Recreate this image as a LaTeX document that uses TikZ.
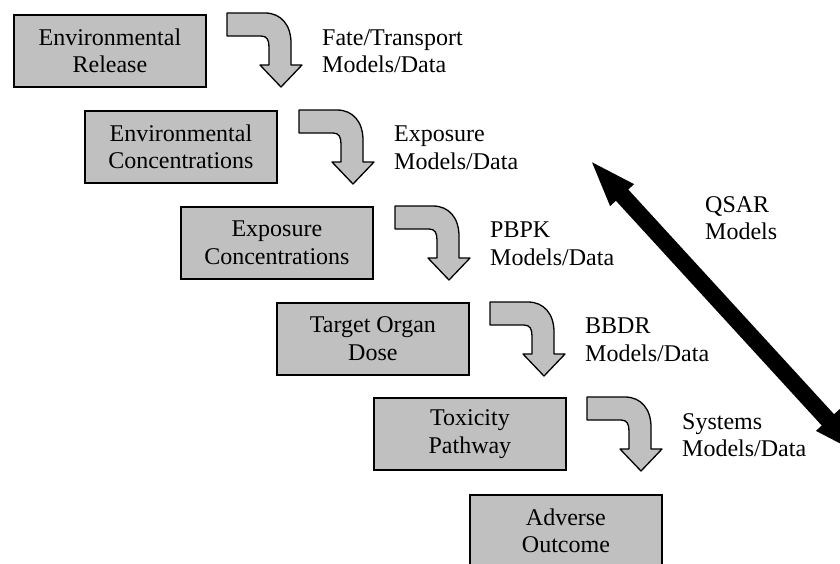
\documentclass[tikz,border=0pt]{standalone}
\usepackage{fontspec}
\setmainfont{Liberation Serif}
\usetikzlibrary{arrows.meta}
\definecolor{boxgray}{HTML}{C0C0C0}
\tikzset{
  x=1pt, y=-1pt,
  every node/.style={font=\fontsize{24}{27.6}\selectfont},
  stagebox/.style={draw=black, line width=1.8pt, fill=boxgray, minimum width=192pt,
    minimum height=72pt, inner sep=0pt, align=center, anchor=north west},
  modellabel/.style={anchor=north west, inner sep=0pt, align=left},
  arrowshape/.style={draw=black, line width=1.3pt, fill=boxgray, line join=round},
  bend arrow/.pic={
    \draw[arrowshape] (0,0) -- (38,0) .. controls (54,0) and (64,12) .. (64,30)
      -- (64,52) -- (75,52) -- (54,74) -- (33,52) -- (42,52) -- (42,34)
      .. controls (42,27) and (40,23) .. (34,23) -- (0,23) -- cycle;
  },
  qsar/.style={line width=16.7pt,
    {Triangle[length=49pt 0 0,width=28pt 0 0]}-{Triangle[length=49pt 0 0,width=28pt 0 0]}}
}
\begin{document}
\begin{tikzpicture}
\useasboundingbox (0,0) rectangle (840,563);
\fill[white] (0,0) rectangle (840,563);
\clip (0,0) rectangle (840,563);

% stage boxes
\node[stagebox] (b1) at (13,14) {Environmental\\Release};
\node[stagebox] (b2) at (84,110) {Environmental\\Concentrations};
\node[stagebox] (b3) at (180,206) {Exposure\\Concentrations};
\node[stagebox] (b4) at (276,302) {Target Organ\\Dose};
\node[stagebox] (b5) at (373,397) {Toxicity\\Pathway};
\node[stagebox] (b6) at (469,494) {Adverse\\Outcome};

% bent arrows
\pic (a1) at (227,13) {bend arrow};
\pic (a2) at (299,110) {bend arrow};
\pic (a3) at (395,206) {bend arrow};
\pic (a4) at (490,302) {bend arrow};
\pic (a5) at (587,397) {bend arrow};

% labels
\node[modellabel] (l1) at (322,29) {Fate/Transport\\Models/Data};
\node[modellabel] (l2) at (394,126) {Exposure\\Models/Data};
\node[modellabel] (l3) at (490,222) {PBPK\\Models/Data};
\node[modellabel] (l4) at (585,318) {BBDR\\Models/Data};
\node[modellabel] (l5) at (682,413) {Systems\\Models/Data};

% QSAR double arrow
\coordinate (qa) at (589,159);
\coordinate (qb) at (861,456);
\draw[qsar] (qa) -- (qb);
\node[modellabel] (ql) at (705,196) {QSAR\\Models};
\end{tikzpicture}
\end{document}
